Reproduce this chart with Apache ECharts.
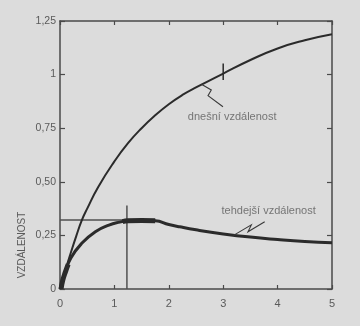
<!DOCTYPE html>
<html>
<head>
<meta charset="utf-8">
<script src="https://cdn.jsdelivr.net/npm/echarts@6/dist/echarts.min.js"></script>
<style>
  html, body { margin: 0; padding: 0; background: #dcdcdc; }
  #chart { width: 360px; height: 326px; }
</style>
</head>
<body>
<div id="chart"></div>
<script>
// Redshift on the x axis, distance on the y axis.
const xTickValues = [0, 1, 2, 3, 4, 5];
const yTickLabels = ['0', '0,25', '0,50', '0,75', '1', '1,25'];

// "dnešní vzdálenost" – distance today
const todayX = [0, 0.1, 0.2, 0.3, 0.4, 0.5, 0.7, 1.0, 1.25, 1.5, 1.75, 2.0, 2.25, 2.5, 3.0, 3.5, 4.0, 4.5, 5.0];
const todayY = [0, 0.088, 0.17, 0.248, 0.32, 0.375, 0.475, 0.595, 0.68, 0.75, 0.81, 0.862, 0.905, 0.94, 1.005, 1.068, 1.122, 1.16, 1.188];

// "tehdejší vzdálenost" – distance at emission
const thenX = [0, 0.05, 0.1, 0.2, 0.4, 0.65, 0.9, 1.1, 1.25, 1.5, 1.75, 2.0, 2.2, 2.5, 3.0, 3.5, 4.0, 4.5, 5.0];
const thenY = [0, 0.04, 0.08, 0.145, 0.213, 0.267, 0.298, 0.312, 0.318, 0.319, 0.318, 0.301, 0.29, 0.276, 0.257, 0.242, 0.231, 0.222, 0.216];

// plateau around the maximum, drawn heavier
const plateauX = [1.15, 1.25, 1.5, 1.75];
const plateauY = [0.314, 0.318, 0.319, 0.318];

// heavy start of the lower curve
const startX = [0.02, 0.05, 0.1, 0.15];
const startY = [0, 0.04, 0.08, 0.115];

// guide lines to the maximum
const maxLevel = 0.322;
const maxLevelEndX = 1.75;
const maxZ = 1.23;
const maxGuideTop = 0.39;

// small cross mark on the upper curve
const crossX = 3.0;
const crossY = [0.975, 1.052];

// zigzag pointers from the labels to the curves
const todayPointer = [[2.996, 0.850], [2.721, 0.902], [2.781, 0.928], [2.60, 0.955]];
const thenPointer = [[3.763, 0.314], [3.456, 0.267], [3.517, 0.299], [3.19, 0.25]];

// label anchors (left edge, vertical middle)
const todayLabel = { text: 'dnešní vzdálenost', x: 2.35, y: 0.802 };
const thenLabel = { text: 'tehdejší vzdálenost', x: 2.97, y: 0.364 };

const axisName = 'VZDÁLENOST';

const zip = (xs, ys) => xs.map((x, i) => [x, ys[i]]);

const FONT = 'Liberation Sans';
const INK = '#2b2b2b';
const AXIS = '#4a4a4a';
const TEXT = '#5a5a5a';

const chart = echarts.init(document.getElementById('chart'), null, { renderer: 'canvas' });

const xBase = {
  type: 'value', min: 0, max: 5, interval: 1,
  axisLine: { show: true, onZero: false, lineStyle: { color: AXIS, width: 1.5 } },
  axisTick: { show: true, inside: true, length: 4, lineStyle: { color: AXIS, width: 1.2 } },
  splitLine: { show: false }
};
const yBase = {
  type: 'value', min: 0, max: 1.25, interval: 0.25,
  axisLine: { show: true, onZero: false, lineStyle: { color: AXIS, width: 1.5 } },
  axisTick: { show: true, inside: true, length: 5, lineStyle: { color: AXIS, width: 1.2 } },
  splitLine: { show: false }
};

const option = {
  backgroundColor: '#dcdcdc',
  animation: false,
  grid: { left: 60, right: 28, top: 21, bottom: 37 },
  xAxis: [
    Object.assign({}, xBase, {
      position: 'bottom',
      axisLabel: {
        color: TEXT, fontFamily: FONT, fontSize: 11, margin: 9,
        formatter: v => xTickValues.includes(v) ? String(v) : ''
      }
    }),
    Object.assign({}, xBase, { position: 'top', axisLabel: { show: false } })
  ],
  yAxis: [
    Object.assign({}, yBase, {
      position: 'left',
      axisLabel: {
        color: TEXT, fontFamily: FONT, fontSize: 10.5, margin: 4,
        formatter: v => yTickLabels[Math.round(v / 0.25)]
      }
    }),
    Object.assign({}, yBase, { position: 'right', axisLabel: { show: false } })
  ],
  graphic: [{
    type: 'text',
    x: 22, y: 245,
    rotation: Math.PI / 2,
    style: {
      text: axisName, fill: TEXT, font: '10px "' + FONT + '"',
      textAlign: 'center', textVerticalAlign: 'middle'
    }
  }],
  series: [
    {
      type: 'line', data: zip(todayX, todayY), smooth: 0.5,
      showSymbol: false, lineStyle: { color: INK, width: 2 }, z: 3
    },
    {
      type: 'line', data: zip(thenX, thenY), smooth: 0.5,
      showSymbol: false, lineStyle: { color: INK, width: 3 }, z: 3
    },
    {
      type: 'line', data: zip(plateauX, plateauY), smooth: 0.5,
      showSymbol: false, lineStyle: { color: INK, width: 5 }, z: 4
    },
    {
      type: 'line', data: zip(startX, startY), smooth: 0.5,
      showSymbol: false, lineStyle: { color: INK, width: 5 }, z: 4
    },
    {
      type: 'line', data: [[0, maxLevel], [maxLevelEndX, maxLevel]],
      showSymbol: false, lineStyle: { color: '#505050', width: 1.5 }, z: 2
    },
    {
      type: 'line', data: [[maxZ, 0], [maxZ, maxGuideTop]],
      showSymbol: false, lineStyle: { color: '#505050', width: 1.5 }, z: 2
    },
    {
      type: 'line', data: [[crossX, crossY[0]], [crossX, crossY[1]]],
      showSymbol: false, lineStyle: { color: INK, width: 1.5 }, z: 4
    },
    {
      type: 'lines', coordinateSystem: 'cartesian2d', polyline: true,
      symbol: ['none', 'arrow'], symbolSize: 6,
      lineStyle: { color: '#3a3a3a', width: 1.1, opacity: 1 },
      data: [{ coords: todayPointer }, { coords: thenPointer }], z: 5
    },
    {
      type: 'scatter', symbolSize: 0, silent: true,
      data: [
        { value: [todayLabel.x, todayLabel.y], name: todayLabel.text },
        { value: [thenLabel.x, thenLabel.y], name: thenLabel.text }
      ],
      label: {
        show: true, position: 'right', distance: 0,
        formatter: p => p.name,
        color: TEXT, fontFamily: FONT, fontSize: 11
      }
    }
  ]
};

chart.setOption(option);
</script>
</body>
</html>
